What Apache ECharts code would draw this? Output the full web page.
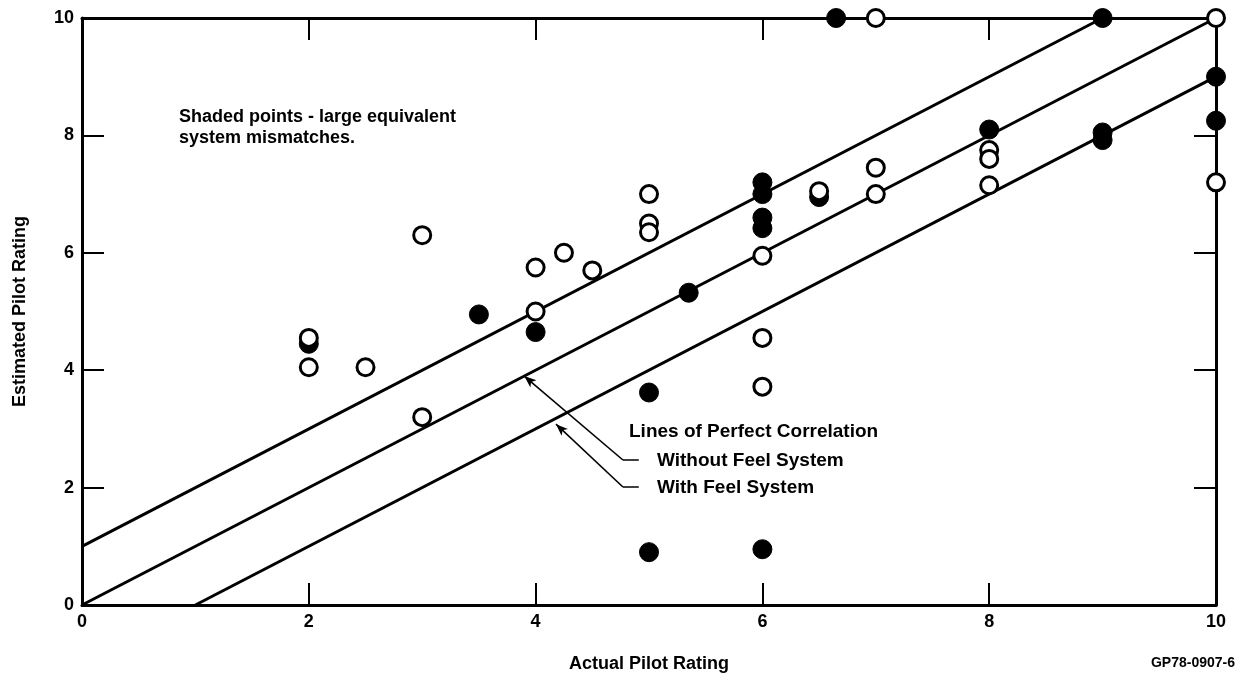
<!DOCTYPE html>
<html>
<head>
<meta charset="utf-8">
<script src="https://cdn.jsdelivr.net/npm/echarts@6/dist/echarts.min.js"></script>
<style>
html,body{margin:0;padding:0;background:#fff;}
#chart{width:1241px;height:681px;}
</style>
</head>
<body>
<div id="chart"></div>
<script>
// Tick values
const xTicks = [0, 2, 4, 6, 8, 10];
const yTicks = [0, 2, 4, 6, 8, 10];

// Open (unshaded) points: [actual, estimated]
const openPoints = [
  [2, 4.55], [2, 4.05], [2.5, 4.05], [3, 6.3], [3, 3.2],
  [4, 5.75], [4, 5.0], [4.25, 6.0], [4.5, 5.7],
  [5, 7.0], [5, 6.5], [5, 6.35],
  [6, 5.95], [6, 4.55], [6, 3.72],
  [6.5, 7.05], [7, 7.45], [7, 7.0], [7, 10],
  [8, 7.75], [8, 7.6], [8, 7.15],
  [10, 10], [10, 7.2]
];

// Shaded points - large equivalent system mismatches
const shadedPoints = [
  [2, 4.45], [3.5, 4.95], [4, 4.65], [5, 3.62], [5, 0.9], [5.35, 5.32],
  [6, 7.2], [6, 7.0], [6, 6.6], [6, 6.42], [6, 0.95],
  [6.5, 6.95], [6.65, 10], [8, 8.1],
  [9, 8.05], [9, 7.92], [9, 10],
  [10, 9.0], [10, 8.25]
];

// Lines of perfect correlation
const upperLine = [[0, 1], [9, 10]];
const withoutFeelLine = [[0, 0], [10, 10]];
const withFeelLine = [[1, 0], [10, 9]];

// Leader lines (annotation) in data units: arrow tip, elbow, stub end
const leaderWithout = [[3.9, 3.9], [4.77, 2.47], [4.91, 2.47]];
const leaderWith = [[4.18, 3.08], [4.77, 2.01], [4.91, 2.01]];

const FONT = '"Liberation Sans", Arial, Helvetica, sans-serif';

const chart = echarts.init(document.getElementById('chart'), null, {renderer: 'canvas'});

function axis(extra) {
  return Object.assign({
    type: 'value', min: xTicks[0], max: xTicks[xTicks.length - 1], interval: 2,
    splitLine: {show: false},
    axisLine: {show: true, onZero: false, lineStyle: {color: '#000', width: 3}},
    axisTick: {show: true, inside: true, length: 22, lineStyle: {color: '#000', width: 2}}
  }, extra);
}

function lineSeries(data, width) {
  return {
    type: 'line', data: data, symbol: 'none', silent: true, z: 2,
    lineStyle: {color: '#000', width: width}, animation: false
  };
}

function leader(points) {
  return {
    type: 'line', data: points.slice(1), symbol: 'none', silent: true, z: 2,
    lineStyle: {color: '#000', width: 1.6}, animation: false,
    markLine: {
      silent: true, animation: false,
      symbol: ['arrow', 'none'], symbolSize: [7, 12],
      lineStyle: {color: '#000', width: 1.6, type: 'solid'},
      label: {show: false},
      data: [[{coord: points[0]}, {coord: points[1]}]]
    }
  };
}

chart.setOption({
  backgroundColor: '#fff',
  animation: false,
  grid: {left: 82, right: 25, top: 18, bottom: 76},
  xAxis: [
    axis({
      position: 'bottom',
      name: 'Actual Pilot Rating', nameLocation: 'middle', nameGap: 50,
      nameTextStyle: {color: '#000', fontSize: 18, fontWeight: 'bold', fontFamily: FONT},
      axisLabel: {color: '#000', fontSize: 18, fontWeight: 'bold', fontFamily: FONT, margin: 8}
    }),
    axis({position: 'top', axisLabel: {show: false}})
  ],
  yAxis: [
    axis({
      position: 'left',
      min: yTicks[0], max: yTicks[yTicks.length - 1],
      name: 'Estimated Pilot Rating', nameLocation: 'middle', nameGap: 53,
      nameTextStyle: {color: '#000', fontSize: 18, fontWeight: 'bold', fontFamily: FONT},
      axisLabel: {color: '#000', fontSize: 18, fontWeight: 'bold', fontFamily: FONT, margin: 8}
    }),
    axis({position: 'right', min: yTicks[0], max: yTicks[yTicks.length - 1], axisLabel: {show: false}})
  ],
  series: [
    lineSeries(upperLine, 3),
    lineSeries(withoutFeelLine, 3),
    lineSeries(withFeelLine, 3),
    leader(leaderWithout),
    leader(leaderWith),
    {
      type: 'scatter', data: shadedPoints, symbol: 'circle', symbolSize: 19, z: 5,
      itemStyle: {color: '#000', borderColor: '#000', borderWidth: 1, opacity: 1},
      clip: false, animation: false
    },
    {
      type: 'scatter', data: openPoints, symbol: 'circle', symbolSize: 17, z: 6,
      itemStyle: {color: '#fff', borderColor: '#000', borderWidth: 3, opacity: 1},
      clip: false, animation: false
    }
  ],
  graphic: [
    {type: 'text', left: 179, top: 107, z: 10, style: {text: 'Shaded points - large equivalent\nsystem mismatches.', fill: '#000', font: 'bold 18px ' + FONT, lineHeight: 21}},
    {type: 'text', left: 629, top: 422, z: 10, style: {text: 'Lines of Perfect Correlation', fill: '#000', font: 'bold 19px ' + FONT}},
    {type: 'text', left: 657, top: 451, z: 10, style: {text: 'Without Feel System', fill: '#000', font: 'bold 19px ' + FONT}},
    {type: 'text', left: 657, top: 478, z: 10, style: {text: 'With Feel System', fill: '#000', font: 'bold 19px ' + FONT}},
    {type: 'text', right: 6, top: 656, z: 10, style: {text: 'GP78-0907-6', fill: '#000', font: 'bold 14px ' + FONT}}
  ]
});
</script>
</body>
</html>
